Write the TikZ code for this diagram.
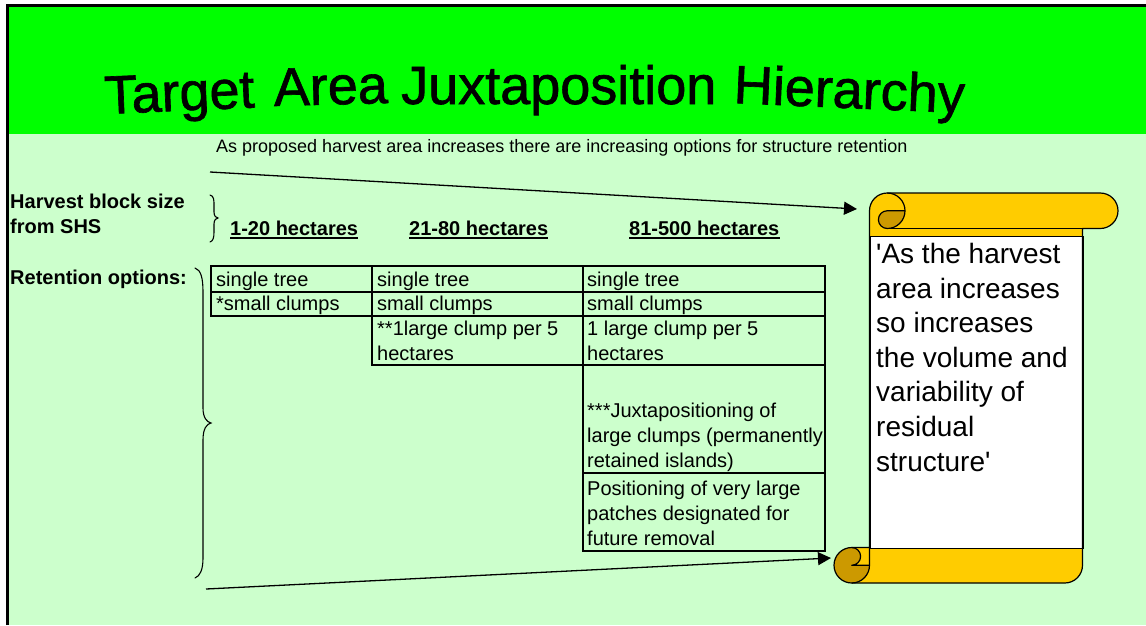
\documentclass[tikz,border=0pt]{standalone}
\usepackage{fontspec}
\setmainfont{Liberation Sans}[Ligatures=TeXOff]
\newfontfamily\titlefont{Liberation Sans}[FakeBold=1.2]
\usetikzlibrary{arrows.meta}
\definecolor{hdrgreen}{HTML}{00FF00}
\definecolor{bodygreen}{HTML}{CCFFCC}
\definecolor{scrollyellow}{HTML}{FFCC00}
\definecolor{scrolldark}{HTML}{CC9900}
\begin{document}
\begin{tikzpicture}[x=1pt,y=-1pt,
  titletext/.style={anchor=base west, inner sep=0pt, font=\titlefont\fontsize{54}{60}\selectfont},
  labeltext/.style={anchor=base west, inner sep=0pt, font=\fontsize{20}{25}\selectfont\bfseries},
  subtext/.style={anchor=base west, inner sep=0pt, font=\fontsize{18}{22}\selectfont},
  celltext/.style={anchor=north west, inner sep=0pt, align=left, font=\fontsize{20}{25}\selectfont},
  quotetext/.style={anchor=north west, inner sep=0pt, align=left, font=\fontsize{28}{34.6}\selectfont},
  cellbox/.style={draw=black, line width=2.5pt},
  ulline/.style={line width=1.6pt},
  bracestroke/.style={line width=1.1pt, line cap=round},
  arr/.style={line width=1.3pt, -{Triangle[length=13pt,width=13pt]}},
  scrollline/.style={line width=1.2pt, line join=round},
]
\useasboundingbox (0,0) rectangle (1146,625);
% background and frame
\fill[white] (0,0) rectangle (1146,625);
\fill[bodygreen] (8,134) rectangle (1146,625);
\fill[hdrgreen] (8,7) rectangle (1146,134);
\draw[line width=3pt] (7,625) -- (7,5.5) -- (1146,5.5);

% title
\node[titletext, rotate=2.5] (t1) at (105,114) {Target};
\node[titletext, rotate=1.5] (t2) at (274,106) {Area};
\node[titletext] (t3) at (401,104) {Juxtaposition};
\node[titletext, rotate=-2.5] (t4) at (733,103) {Hierarchy};

% subtitle
\node[subtext] (sub) at (216,152) {As proposed harvest area increases there are increasing options for structure retention};

% left labels
\node[labeltext] (hb1) at (10,208) {Harvest block size};
\node[labeltext] (hb2) at (10,233) {from SHS};
\node[labeltext] (ro) at (10,284) {Retention options:};

% braces
\draw[bracestroke] (210,195) .. controls (214,196) and (214,200) .. (214,205) -- (214,212)
  .. controls (214,216) and (216,218) .. (218,218)
  .. controls (216,218) and (214,220) .. (214,224) -- (214,232)
  .. controls (214,238) and (213,241) .. (210,242);
\draw[bracestroke] (195,268) .. controls (201,270) and (203,278) .. (203,292) -- (203,408)
  .. controls (203,418) and (207,422) .. (211,423)
  .. controls (207,424) and (203,428) .. (203,440) -- (203,558)
  .. controls (203,570) and (200,576) .. (195,578);

% column headers
\node[labeltext] (h1) at (230,235) {1-20 hectares};
\node[labeltext] (h2) at (409,235) {21-80 hectares};
\node[labeltext] (h3) at (629,235) {81-500 hectares};
\foreach \h in {h1,h2,h3}{
  \draw[ulline] ([yshift=-3pt]\h.base west) -- ([yshift=-3pt]\h.base east);
}

% table cells
\draw[cellbox] (211,266) rectangle (372,292);
\draw[cellbox] (211,292) rectangle (372,316);
\draw[cellbox] (372,266) rectangle (583,292);
\draw[cellbox] (372,292) rectangle (583,316);
\draw[cellbox] (372,316) rectangle (583,365);
\draw[cellbox] (583,266) rectangle (825,292);
\draw[cellbox] (583,292) rectangle (825,316);
\draw[cellbox] (583,316) rectangle (825,365);
\draw[cellbox] (583,365) rectangle (825,473);
\draw[cellbox] (583,473) rectangle (825,551);

\node[celltext] (c11) at (216,268.5) {\strut single tree};
\node[celltext] (c12) at (216,292.5) {\strut *small clumps};
\node[celltext] (c21) at (377,268.5) {\strut single tree};
\node[celltext] (c22) at (377,292.5) {\strut small clumps};
\node[celltext] (c23) at (377,317.5) {\strut **1large clump per 5\\\strut hectares};
\node[celltext] (c31) at (587,268.5) {\strut single tree};
\node[celltext] (c32) at (587,292.5) {\strut small clumps};
\node[celltext] (c33) at (587,317.5) {\strut 1 large clump per 5\\\strut hectares};
\node[celltext] (c34) at (587,399.5) {\strut ***Juxtapositioning of\\\strut large clumps (permanently\\\strut retained islands)};
\node[celltext] (c35) at (587,477.5) {\strut Positioning of very large\\\strut patches designated for\\\strut future removal};

% scroll
\fill[scrollyellow] (869.5,210.75) arc[start angle=180,end angle=270,radius=17.75] -- (1100.25,193)
  arc[start angle=270,end angle=450,radius=17.75] -- (1082.5,228.5) -- (1082.5,565.25)
  arc[start angle=0,end angle=90,radius=17.75] -- (851.75,583)
  arc[start angle=90,end angle=270,radius=17.75] -- (869.5,547.5) -- cycle;
\fill[scrolldark] (905,210.75) arc[start angle=0,end angle=90,radius=17.75]
  arc[start angle=90,end angle=270,radius=8.875] -- cycle;
\fill[scrolldark] (869.5,565.25) arc[start angle=0,end angle=270,radius=17.75]
  arc[start angle=270,end angle=450,radius=8.875] -- cycle;
\node[draw=black, line width=1pt, fill=white, anchor=north west, inner sep=0pt,
  minimum width=213pt, minimum height=312pt] (page) at (869.5,236) {};
\draw[scrollline] (869.5,210.75) arc[start angle=180,end angle=270,radius=17.75] -- (1100.25,193)
  arc[start angle=270,end angle=450,radius=17.75] -- (1082.5,228.5) -- (1082.5,565.25)
  arc[start angle=0,end angle=90,radius=17.75] -- (851.75,583)
  arc[start angle=90,end angle=270,radius=17.75] -- (869.5,547.5) -- cycle;
\draw[scrollline] (887.25,193) arc[start angle=270,end angle=450,radius=17.75]
  arc[start angle=90,end angle=270,radius=8.875] -- (905,210.75);
\draw[scrollline] (1082.5,228.5) -- (887.25,228.5);
\draw[scrollline] (851.75,547.5) arc[start angle=270,end angle=450,radius=8.875] -- (869.5,565.25);
\draw[scrollline] (851.75,583) arc[start angle=90,end angle=0,radius=17.75] -- (869.5,547.5);

\node[quotetext] (quote) at (876,239) {\strut 'As the harvest\\\strut area increases\\\strut so increases\\\strut the volume and\\\strut variability of\\\strut residual\\\strut structure'};

% arrows
\coordinate (a1s) at (210,172);
\coordinate (a1e) at (857,209);
\coordinate (a2s) at (206,589);
\coordinate (a2e) at (831,558);
\draw[arr] (a1s) -- (a1e);
\draw[arr] (a2s) -- (a2e);
\end{tikzpicture}
\end{document}
